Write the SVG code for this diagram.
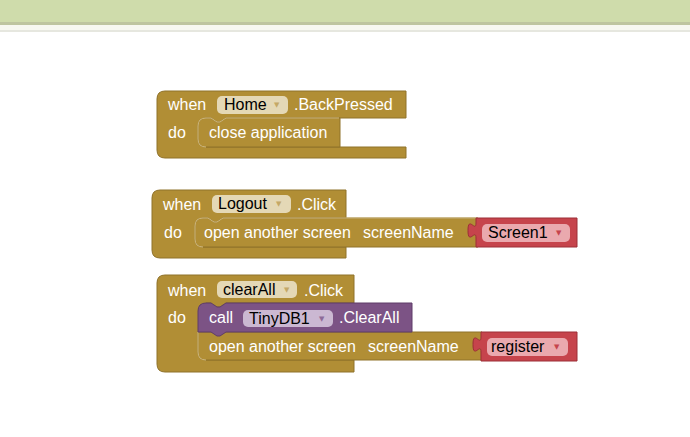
<svg xmlns="http://www.w3.org/2000/svg" width="690" height="437" viewBox="0 0 690 437">
<style>
.ev{fill:#b18e35;stroke:#8f722b;stroke-width:1}
.st{fill:#b18e35;stroke:#8f722b;stroke-width:1}
.hl{fill:none;stroke:#d3bc82;stroke-width:1}
.pu{fill:#7c5385;stroke:#5f3d68;stroke-width:1}
.rd{fill:#c6444c;stroke:#9c2f37;stroke-width:1}
.t{font-family:"Liberation Sans",Arial,sans-serif;font-size:16px;fill:#ffffff}
.ft{font-family:"Liberation Sans",Arial,sans-serif;font-size:16px;fill:#000000}
.ar{font-family:"DejaVu Sans",sans-serif;font-size:7px}
.fm{fill:#e4d8b6}
.fp{fill:#cbb8d2}
.fr{fill:#eaa9ae}
</style>
<rect x="0" y="0" width="690" height="437" fill="#ffffff"/>
<rect x="0" y="0" width="690" height="22" fill="#cfdcab"/>
<rect x="0" y="22" width="690" height="3" fill="#bec5a0"/>
<rect x="0" y="25" width="690" height="5" fill="#f7f8f1"/>
<rect x="0" y="30" width="690" height="2" fill="#e6e7df"/>

<g id="block1">
<path class="ev" d="M157,99 Q157,91 165,91 H406 V118 H226 l-6,4 h-3 l-6,-4 H206 V147 H406 V158 H165 Q157,158 157,150 Z"/>
<path class="st" d="M206,118 H211 l6,4 h3 l6,-4 H340 V147 H206 Q198,147 198,139 V126 Q198,118 206,118 Z"/>
<path class="hl" d="M206,147 Q198,147 198,139 V126 Q198,118 206,118 H211 l6,4 h3 l6,-4 H339"/>
<text class="t" x="168" y="110">when</text>
<rect class="fm" x="217" y="96" width="71" height="18" rx="5"/>
<text class="ft" x="224" y="110">Home</text>
<text class="ar" x="274" y="107" fill="#c4a866">▼</text>
<text class="t" x="294" y="110">.BackPressed</text>
<text class="t" x="168" y="138">do</text>
<text class="t" x="209" y="138">close application</text>
</g>

<g id="block2">
<path class="ev" d="M152,198 Q152,190 160,190 H346 V218 H223 l-6,4 h-3 l-6,-4 H203 V247 H346 V258 H160 Q152,258 152,250 Z"/>
<path class="st" d="M203,218 H208 l6,4 h3 l6,-4 H478 V247 H203 Q195,247 195,239 V226 Q195,218 203,218 Z"/>
<path class="hl" d="M203,247 Q195,247 195,239 V226 Q195,218 203,218 H208 l6,4 h3 l6,-4 H476"/>
<text class="t" x="163" y="210">when</text>
<rect class="fm" x="212" y="195" width="79" height="18" rx="5"/>
<text class="ft" x="218" y="209">Logout</text>
<text class="ar" x="276" y="206" fill="#c4a866">▼</text>
<text class="t" x="297" y="210">.Click</text>
<text class="t" x="164" y="238">do</text>
<text class="t" x="204" y="238">open another screen</text>
<text class="t" x="363" y="238">screenName</text>
</g>

<g id="screen1">
<path class="rd" d="M476,218 H577 V247 H476 V238 c0,-10 -8,8 -8,-7.5 c0,-15.5 8,2.5 8,-7.5 Z"/>
<rect class="fr" x="482" y="224" width="88" height="18" rx="5"/>
<text class="ft" x="488" y="238">Screen1</text>
<text class="ar" x="556" y="235" fill="#c6444c">▼</text>
</g>

<g id="block3">
<path class="ev" d="M157,283 Q157,275 165,275 H354 V303 H226 l-6,4 h-3 l-6,-4 H206 V360 H354 V372 H165 Q157,372 157,364 Z"/>
<path class="st" d="M206,332 H482 V360 H206 Q198,360 198,352 V332 Z"/>
<path class="hl" d="M206,360 Q198,360 198,352 V332"/>
<text class="t" x="168" y="296">when</text>
<rect class="fm" x="217" y="281" width="80" height="17" rx="5"/>
<text class="ft" x="223" y="295">clearAll</text>
<text class="ar" x="284" y="292" fill="#c4a866">▼</text>
<text class="t" x="304" y="296">.Click</text>
<text class="t" x="168" y="323">do</text>
<text class="t" x="209" y="352">open another screen</text>
<text class="t" x="368" y="352">screenName</text>
</g>

<g id="tinydb">
<path class="pu" d="M206,303 H211 l6,4 h3 l6,-4 H412 V332 H226 l-6,4 h-3 l-6,-4 H198 V311 Q198,303 206,303 Z"/>
<text class="t" x="209" y="323">call</text>
<rect class="fp" x="243" y="310" width="90" height="17" rx="5"/>
<text class="ft" x="249" y="324">TinyDB1</text>
<text class="ar" x="319" y="321" fill="#8e6a98">▼</text>
<text class="t" x="339" y="323">.ClearAll</text>
</g>

<g id="register">
<path class="rd" d="M481,332 H577 V361 H481 V352 c0,-10 -8,8 -8,-7.5 c0,-15.5 8,2.5 8,-7.5 Z"/>
<rect class="fr" x="487" y="338" width="81" height="18" rx="5"/>
<text class="ft" x="491" y="352">register</text>
<text class="ar" x="554" y="349" fill="#c6444c">▼</text>
</g>

<g id="connectors"></g>
</svg>
